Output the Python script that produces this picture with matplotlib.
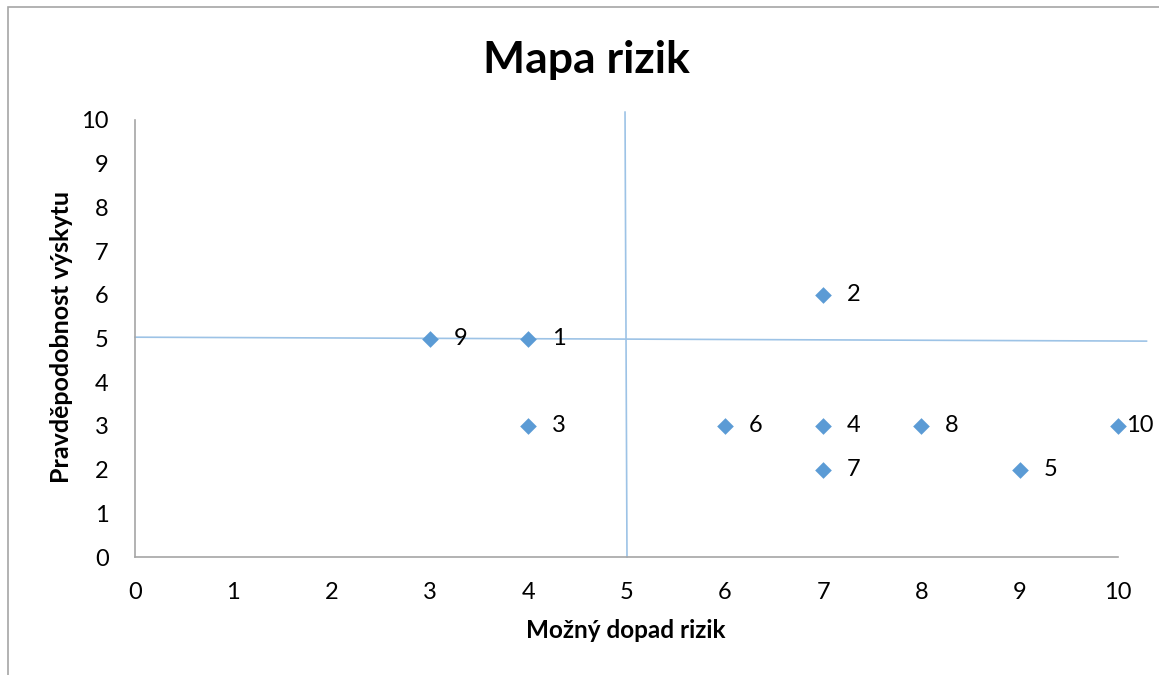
import matplotlib
matplotlib.use("Agg")
import matplotlib.pyplot as plt
from matplotlib.patches import Rectangle

# Data
impact = [4, 7, 4, 7, 9, 6, 7, 8, 3, 10]
probability = [5, 6, 3, 3, 2, 3, 2, 3, 5, 3]
labels = ["1", "2", "3", "4", "5", "6", "7", "8", "9", "10"]
x_ticks = list(range(0, 11))
y_ticks = list(range(0, 11))
title = "Mapa rizik"
x_label = "Možný dopad rizik"
y_label = "Pravděpodobnost výskytu"

# Quadrant divider lines (drawn shapes)
v_line_x = [4.985, 5.005]
v_line_y = [10.18, 0.0]
h_line_x = [0.0, 10.29]
h_line_y = [5.03, 4.94]

plt.rcParams['font.family'] = ['Lato', 'DejaVu Sans']

W, H = 1159, 675
fig = plt.figure(figsize=(W / 100, H / 100), dpi=100)
fig.patches.append(Rectangle((8 / W, -0.1), 1.2, 1 - 7 / H + 0.1, transform=fig.transFigure,
                             fill=False, edgecolor='#a6a6a6', linewidth=1.2))
ax = fig.add_axes([135 / W, 1 - 557 / H, (1118 - 135) / W, (557 - 120) / H])

ax.plot(v_line_x, v_line_y, color='#9dc3e6', linewidth=1.2, clip_on=False, zorder=1)
ax.plot(h_line_x, h_line_y, color='#9dc3e6', linewidth=1.2, clip_on=False, zorder=1)

ax.scatter(impact, probability, marker='D', s=72, color='#5b9bd5', zorder=3, clip_on=False,
           linewidths=0)
for xi, yi, lab in zip(impact, probability, labels):
    off = 6 if xi == max(impact) else 17
    ax.annotate(lab, (xi, yi), xytext=(off, 0), textcoords='offset points',
                ha='left', va='center', fontsize=17, color='black')

ax.set_xlim(0, 10)
ax.set_ylim(0, 10)
ax.set_xticks(x_ticks)
ax.set_yticks(y_ticks)
ax.tick_params(length=0, labelsize=17)
ax.tick_params(axis='x', pad=18)
ax.tick_params(axis='y', pad=19)
for s in ['top', 'right']:
    ax.spines[s].set_visible(False)
for s in ['left', 'bottom']:
    ax.spines[s].set_color('#a6a6a6')
    ax.spines[s].set_linewidth(1.2)

fig.text(626 / W, 1 - 630 / H, x_label, ha='center', va='center', fontsize=17.5, fontweight='bold')
fig.text(62 / W, 1 - 337 / H, y_label, ha='center', va='center', fontsize=18, fontweight='bold',
         rotation=90)
fig.text(586 / W, 1 - 60 / H, title, ha='center', va='center', fontsize=32, fontweight='bold')

fig.savefig('out.png', dpi=100)
